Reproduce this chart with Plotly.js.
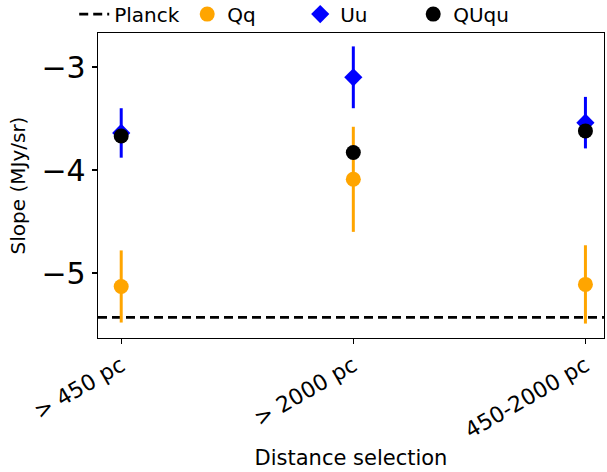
<!DOCTYPE html>
<html>
<head>
<meta charset="utf-8">
<script src="https://cdn.plot.ly/plotly-3.0.1.min.js"></script>
<style>html,body{margin:0;padding:0;background:#fff;}#chart{width:607px;height:472px;}</style>
</head>
<body>
<div id="chart"></div>
<script>
const categories = ["> 450 pc", "> 2000 pc", "450-2000 pc"];
const catIndex = [0, 1, 2];
const qqValues = [-5.13, -4.09, -5.11];
const qqErrors = [0.35, 0.51, 0.38];
const uuValues = [-3.64, -3.10, -3.54];
const uuErrors = [0.24, 0.30, 0.25];
const ququValues = [-3.67, -3.83, -3.62];
const ququErrors = [0.05, 0.05, 0.05];
const planckValue = -5.43;
const xRange = [-0.1, 2.08];
const yRange = [-5.63, -2.67];
const yTicks = [-5, -4, -3];

const font = "DejaVu Sans, sans-serif";

const traces = [
  {
    x: xRange, y: [planckValue, planckValue], mode: "lines", name: "Planck",
    line: {color: "black", width: 2.8, dash: "9px,5px"}
  },
  {
    x: catIndex, y: qqValues, mode: "markers", name: "Qq",
    marker: {color: "#FFA500", size: 15, symbol: "circle"},
    error_y: {type: "data", array: qqErrors, color: "#FFA500", thickness: 3, width: 0}
  },
  {
    x: catIndex, y: uuValues, mode: "markers", name: "Uu",
    marker: {color: "#0000FF", size: 14, symbol: "diamond"},
    error_y: {type: "data", array: uuErrors, color: "#0000FF", thickness: 3, width: 0}
  },
  {
    x: catIndex, y: ququValues, mode: "markers", name: "QUqu",
    marker: {color: "black", size: 15, symbol: "circle"},
    error_y: {type: "data", array: ququErrors, color: "black", thickness: 3, width: 0}
  }
];

const layout = {
  width: 607, height: 472,
  margin: {l: 98, r: 3, t: 33, b: 134, autoexpand: false},
  paper_bgcolor: "white", plot_bgcolor: "white",
  font: {family: font, color: "black"},
  showlegend: true,
  legend: {
    orientation: "h", x: -0.047, xanchor: "left", y: 1.062, yanchor: "middle",
    font: {size: 20, family: font}, entrywidth: 68, entrywidthmode: "pixels",
    bgcolor: "rgba(0,0,0,0)", traceorder: "normal"
  },
  xaxis: {
    range: xRange, tickvals: catIndex, ticktext: categories,
    tickangle: -30, tickfont: {size: 22, family: font},
    ticks: "outside", ticklen: 5, tickwidth: 1.2, tickcolor: "black",
    showline: true, linecolor: "black", linewidth: 1.3, mirror: true,
    showgrid: false, zeroline: false,
    title: {text: "Distance selection", font: {size: 21, family: font}, standoff: 8}
  },
  yaxis: {
    range: yRange, tickvals: yTicks, ticktext: ["−5", "−4", "−3"],
    tickfont: {size: 30, family: font},
    ticks: "outside", ticklen: 5, tickwidth: 1.2, tickcolor: "black",
    showline: true, linecolor: "black", linewidth: 1.3, mirror: true,
    showgrid: false, zeroline: false,
    title: {text: "Slope (MJy/sr)", font: {size: 20, family: font}, standoff: 10}
  }
};

Plotly.newPlot("chart", traces, layout, {displayModeBar: false, staticPlot: true});
</script>
</body>
</html>
